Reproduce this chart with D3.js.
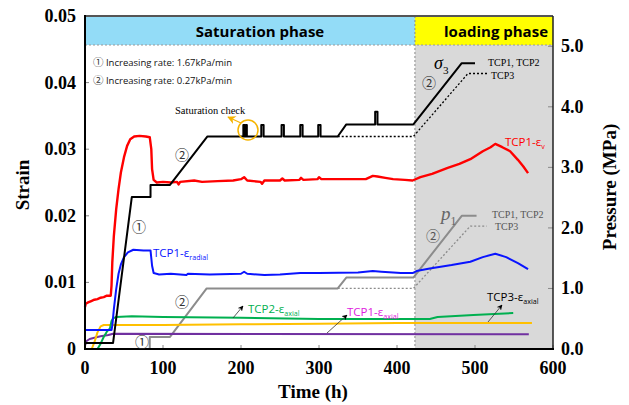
<!DOCTYPE html>
<html>
<head>
<meta charset="utf-8">
<script src="https://cdn.jsdelivr.net/npm/d3@7"></script>
<style>
  body { margin: 0; background: #fff; }
  svg { display: block; }
  .serif { font-family: "Liberation Serif", "Times New Roman", serif; }
  .sans { font-family: "Open Sans", "Liberation Sans", sans-serif; }
</style>
</head>
<body>
<svg width="629" height="405"></svg>
<script>
// Strain series: [time (h), strain]
const tcp1Vol = [[0,0.0063],[1,0.0068],[4,0.0070],[8,0.0072],[12,0.0074],[16,0.0075],[20,0.0077],[24,0.0078],[28,0.0080],[33,0.0080],
  [34,0.0095],[35,0.0130],[37,0.0170],[40,0.0210],[43,0.0240],[46,0.0265],[50,0.0288],[54,0.0305],[58,0.0315],[63,0.0319],[70,0.0320],
  [78,0.0319],[83,0.0318],[85,0.0300],[86,0.0270],[88,0.0254],[92,0.0250],[100,0.0251],[110,0.0250],[118,0.0251],[120,0.0247],[122,0.0251],
  [140,0.0253],[150,0.0251],[170,0.0252],[190,0.0253],[200,0.0255],[204,0.0258],[208,0.0253],[225,0.0251],[227,0.0248],[230,0.0253],
  [250,0.0253],[253,0.0256],[256,0.0253],[275,0.0254],[277,0.0257],[280,0.0254],[298,0.0255],[300,0.0258],[303,0.0255],[340,0.0255],
  [360,0.0255],[369,0.0260],[375,0.0259],[385,0.0257],[395,0.0255],[410,0.0254],[420,0.0253],[430,0.0258],[445,0.0263],[465,0.0272],
  [480,0.0278],[494,0.0285],[510,0.0297],[520,0.0303],[526,0.0308],[535,0.0303],[545,0.0297],[555,0.0284],[562,0.0274],[568,0.0264]];
const tcp1Radial = [[0,0.00285],[34,0.00285],[35,0.0035],[37,0.0060],[40,0.0090],[43,0.0113],[46,0.0127],[50,0.0138],[55,0.0145],
  [62,0.0149],[75,0.0148],[84,0.0148],[86,0.0125],[88,0.0114],[95,0.0112],[110,0.0113],[130,0.0111],[132,0.0113],[160,0.0112],
  [200,0.0113],[204,0.0116],[208,0.0113],[230,0.0111],[250,0.0112],[276,0.0114],[300,0.0114],[350,0.0115],[369,0.0117],[380,0.0116],
  [395,0.0115],[405,0.0114],[420,0.0114],[425,0.0117],[442,0.0121],[470,0.0126],[494,0.0131],[510,0.0138],[526,0.0143],[540,0.0138],
  [555,0.0129],[568,0.0120]];
const tcp2Axial = [[16,0],[20,0.0008],[24,0.0018],[28,0.0026],[32,0.0031],[34,0.0042],[36,0.0046],[40,0.0048],[60,0.0049],[100,0.0048],
  [200,0.0047],[300,0.0045],[400,0.0045],[442,0.0045],[452,0.0048],[498,0.0051],[549,0.0054]];
const tcp3Axial = [[8.6,0],[12,0.0010],[16,0.0025],[20,0.0034],[24,0.0036],[35,0.0036],[100,0.0036],[200,0.0037],[300,0.0038],
  [400,0.0039],[573,0.0039]];
const tcp1Axial = [[0,0.0005],[2,0.0012],[6,0.0015],[12,0.0017],[20,0.0019],[30,0.0021],[36,0.0023],[569,0.0022]];

// Pressure series: [time (h), MPa]
const sigma3 = [[0,0],[0,0.1],[36,0.1],[60,2.51],[84,2.51],[84,2.71],[109,2.71],[157,3.51],
  [203,3.51],[203,3.70],[204.5,3.70],[204.5,3.51],[206,3.51],[206,3.70],[207.5,3.70],[207.5,3.51],
  [226,3.51],[226,3.70],[229,3.70],[229,3.51],[252,3.51],[252,3.70],[255,3.70],[255,3.51],
  [276,3.51],[276,3.70],[279,3.70],[279,3.51],[299,3.51],[299,3.70],[302,3.70],[302,3.51],
  [324,3.51],[335,3.71],[372,3.71],[372,3.92],[375,3.92],[375,3.71],[421,3.71],[483,4.72],[500,4.72]];
const sigma3Tcp3 = [[324,3.51],[421,3.51],[491,4.55],[517,4.55]];
const p1 = [[83,0],[83,0.2],[109,0.2],[156,1.0],[324,1.0],[335,1.18],[421,1.18],[483,2.2],[502,2.2]];
const p1Tcp3 = [[324,1.0],[421,1.0],[494,2.03],[515,2.03]];

const xTicks = [0, 100, 200, 300, 400, 500, 600];
const strainTicks = [0, 0.01, 0.02, 0.03, 0.04, 0.05];
const pressureTicks = [0, 1, 2, 3, 4, 5];
const loadingStart = 423;

const svg = d3.select("svg");
const L = 85, R = 553, T = 16, B = 349, headerH = 29;

const x = d3.scaleLinear().domain([0, 600]).range([L, R]);
const yS = d3.scaleLinear().domain([0, 0.05]).range([B, T]);
const yP = d3.scaleLinear().domain([0, 5.5]).range([B, T]);

// background panels
svg.append("rect").attr("x", x(loadingStart)).attr("y", T + headerH)
  .attr("width", R - x(loadingStart)).attr("height", B - T - headerH).attr("fill", "#d9d9d9");
svg.append("rect").attr("x", L).attr("y", T).attr("width", x(loadingStart) - L).attr("height", headerH).attr("fill", "#93dcf7");
svg.append("rect").attr("x", x(loadingStart)).attr("y", T).attr("width", R - x(loadingStart)).attr("height", headerH).attr("fill", "#ffff00");
svg.append("line").attr("x1", L).attr("x2", R).attr("y1", T + headerH).attr("y2", T + headerH)
  .attr("stroke", "#999").attr("stroke-dasharray", "2,2");
svg.append("line").attr("x1", x(loadingStart)).attr("x2", x(loadingStart)).attr("y1", T).attr("y2", B)
  .attr("stroke", "#888").attr("stroke-dasharray", "2,2");

svg.append("text").attr("class", "sans").attr("x", 260).attr("y", 37).attr("text-anchor", "middle")
  .attr("font-size", 15).attr("font-weight", "bold").text("Saturation phase");
svg.append("text").attr("class", "sans").attr("x", 548).attr("y", 37).attr("text-anchor", "end")
  .attr("font-size", 15).attr("font-weight", "bold").text("loading phase");

// ticks (inward)
const tickG = svg.append("g").attr("stroke", "#888").attr("stroke-width", 1);
xTicks.forEach(t => tickG.append("line").attr("x1", x(t)).attr("x2", x(t)).attr("y1", B).attr("y2", B - 4));
strainTicks.forEach(s => tickG.append("line").attr("x1", L).attr("x2", L + 4).attr("y1", yS(s)).attr("y2", yS(s)));
pressureTicks.forEach(p => tickG.append("line").attr("x1", R).attr("x2", R - 5).attr("y1", yP(p)).attr("y2", yP(p)));

// lines
const strainLine = d3.line().x(d => x(d[0])).y(d => yS(d[1]));
const pressLine = d3.line().x(d => x(d[0])).y(d => yP(d[1]));
const draw = (data, gen, color, w, dash) => svg.append("path").datum(data).attr("d", gen)
  .attr("fill", "none").attr("stroke", color).attr("stroke-width", w)
  .attr("stroke-linejoin", "round").attr("stroke-dasharray", dash || null);

draw(p1Tcp3, pressLine, "#8c8c8c", 1.3, "2,2");
draw(p1, pressLine, "#8c8c8c", 2);
draw(tcp1Axial, strainLine, "#7030a0", 2);
draw(tcp3Axial, strainLine, "#ffc000", 2);
draw(tcp2Axial, strainLine, "#00b050", 2);
draw(tcp1Radial, strainLine, "#0a14ff", 2);
draw(tcp1Vol, strainLine, "#ff0000", 2.4);
draw(sigma3Tcp3, pressLine, "#000", 1.3, "2,2");
draw(sigma3, pressLine, "#000", 2);

// frame and axes
svg.append("line").attr("x1", L).attr("x2", R).attr("y1", T).attr("y2", T).attr("stroke", "#555").attr("stroke-width", 2);
svg.append("line").attr("x1", R).attr("x2", R).attr("y1", T).attr("y2", B).attr("stroke", "#222").attr("stroke-width", 1.5);
svg.append("line").attr("x1", L).attr("x2", L).attr("y1", T - 1).attr("y2", B + 1).attr("stroke", "#000").attr("stroke-width", 2);
svg.append("line").attr("x1", L - 1).attr("x2", R + 1).attr("y1", B).attr("y2", B).attr("stroke", "#000").attr("stroke-width", 2);

// tick labels
const lab = svg.append("g").attr("class", "serif").attr("font-weight", "bold").attr("font-size", 18);
xTicks.forEach(t => lab.append("text").attr("x", x(t)).attr("y", B + 25).attr("text-anchor", "middle").text(t));
strainTicks.forEach(s => lab.append("text").attr("x", 76).attr("y", yS(s) + 6).attr("text-anchor", "end")
  .text(s === 0 ? "0" : s.toFixed(2)));
pressureTicks.forEach(p => lab.append("text").attr("x", 561).attr("y", yP(p) + 6).text(p.toFixed(1)));

lab.append("text").attr("x", 313).attr("y", 398).attr("text-anchor", "middle").attr("font-size", 19).text("Time (h)");
lab.append("text").attr("transform", "translate(29,185) rotate(-90)").attr("text-anchor", "middle").attr("font-size", 19).text("Strain");
lab.append("text").attr("transform", "translate(616,187) rotate(-90)").attr("text-anchor", "middle").attr("font-size", 19).text("Pressure (MPa)");

// annotations
const circ = "'Noto Sans CJK JP', 'DejaVu Sans', sans-serif";
const note = svg.append("g").attr("class", "sans").attr("font-size", 9.5).attr("fill", "#111");
[["①", "Increasing rate: 1.67kPa/min", 66], ["②", "Increasing rate: 0.27kPa/min", 84]].forEach(n => {
  const t = note.append("text").attr("x", 93).attr("y", n[2]);
  t.append("tspan").attr("font-family", circ).attr("font-size", 10.5).attr("fill", "#333").text(n[0]);
  t.append("tspan").text(" " + n[1]);
});

const circled = (ch, cx, cy, color) => svg.append("text").attr("x", cx).attr("y", cy + 5)
  .attr("text-anchor", "middle").attr("font-family", circ).attr("font-size", 14).attr("fill", color).text(ch);
circled("①", 139, 227, "#333");
circled("②", 182, 155, "#333");
circled("①", 142, 342, "#333");
circled("②", 182, 302, "#333");
circled("②", 429, 83, "#333");
circled("②", 433, 236, "#555");

// saturation check
svg.append("text").attr("class", "serif").attr("x", 175).attr("y", 114).attr("font-size", 10.5).text("Saturation check");
svg.append("circle").attr("cx", 248).attr("cy", 130).attr("r", 10).attr("fill", "none").attr("stroke", "#f5b400").attr("stroke-width", 1.5);
const defs = svg.append("defs");
const marker = (id, color) => defs.append("marker").attr("id", id).attr("viewBox", "0 0 10 10").attr("refX", 9).attr("refY", 5)
  .attr("markerWidth", 7).attr("markerHeight", 7).attr("orient", "auto")
  .append("path").attr("d", "M0,0 L10,5 L0,10 L3,5 Z").attr("fill", color);
marker("arrO", "#f5b400");
marker("arrK", "#000");
svg.append("line").attr("x1", 241).attr("y1", 123).attr("x2", 228).attr("y2", 117)
  .attr("stroke", "#f5b400").attr("stroke-width", 1.2).attr("marker-end", "url(#arrO)");

// sigma3 and p1 labels
const sub = (g, xx, yy, main, s, color, size, italic, fam) => {
  const t = g.append("text").attr("x", xx).attr("y", yy).attr("fill", color).attr("font-size", size)
    .attr("font-family", fam);
  t.append("tspan").attr("font-style", italic ? "italic" : null).text(main);
  t.append("tspan").attr("font-size", size * 0.62).attr("dy", size * 0.25).text(s);
  return t;
};
sub(svg, 434, 69, "σ", "3", "#000", 18, true, "'Liberation Serif', serif");
sub(svg, 441, 220, "p", "1", "#666", 19, true, "'Liberation Serif', serif");

const small = svg.append("g").attr("class", "serif").attr("font-size", 10);
small.append("text").attr("x", 488).attr("y", 66).text("TCP1, TCP2");
small.append("text").attr("x", 491).attr("y", 79).text("TCP3");
small.append("text").attr("x", 492).attr("y", 218).attr("fill", "#555").text("TCP1, TCP2");
small.append("text").attr("x", 495).attr("y", 230).attr("fill", "#555").text("TCP3");

// series labels
const sans = "'Open Sans', 'Liberation Sans', sans-serif";
sub(svg, 505, 146, "TCP1-ε", "v", "#ff0000", 11.5, false, sans);
sub(svg, 153, 257, "TCP1-ε", "radial", "#0a14ff", 11.5, false, sans);
sub(svg, 248, 313, "TCP2-ε", "axial", "#00b050", 11.5, false, sans);
sub(svg, 347, 316, "TCP1-ε", "axial", "#e020e0", 11.5, false, sans);
sub(svg, 487, 301, "TCP3-ε", "axial", "#000", 11.5, false, sans);

const arrows = [[233, 318, 243, 306], [327, 333, 347, 315], [488, 322, 502, 305]];
arrows.forEach(a => svg.append("line").attr("x1", a[0]).attr("y1", a[1]).attr("x2", a[2]).attr("y2", a[3])
  .attr("stroke", "#333").attr("stroke-width", 0.8).attr("marker-end", "url(#arrK)"));
</script>
</body>
</html>
